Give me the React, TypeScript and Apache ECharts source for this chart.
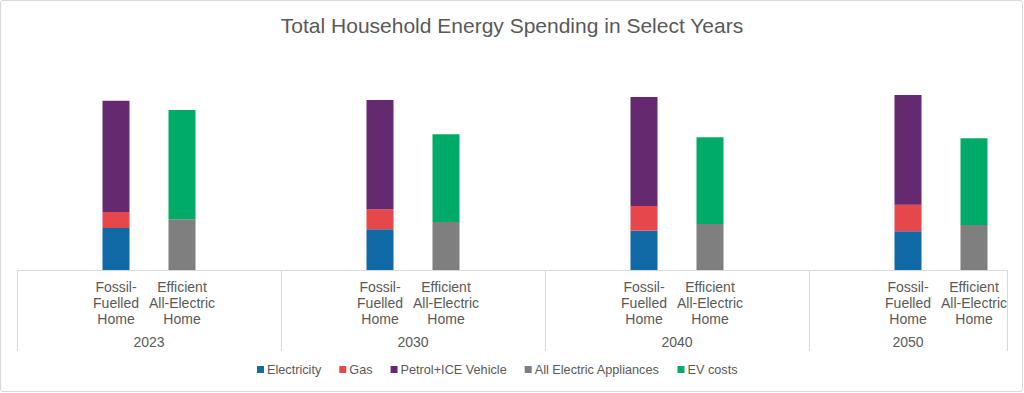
import React, { useEffect, useRef } from "react";
import * as echarts from "echarts";

// ---- data ----
const years = ["2023", "2030", "2040", "2050"];
const homeTypes = ["Fossil-\nFuelled\nHome", "Efficient\nAll-Electric\nHome"];
// Fossil-fuelled home components (per year)
const electricity = [1680, 1630, 1570, 1550];
const gas = [640, 800, 990, 1065];
const petrolIce = [4450, 4370, 4360, 4390];
// Efficient all-electric home components (per year)
const allElectricAppliances = [2030, 1920, 1840, 1800];
const evCosts = [4370, 3510, 3470, 3470];

const seriesNames = ["Electricity", "Gas", "Petrol+ICE Vehicle", "All Electric Appliances", "EV costs"];
const colors = ["#0F6AA6", "#E6474A", "#65296F", "#7F7F7F", "#00AB68"];

// category layout: each year group = blank, fossil, efficient, blank (last group has no trailing blank)
const trailingBlank = [true, true, true, false];

const categories: string[] = [];
const fossilIdx: number[] = [];
const effIdx: number[] = [];
const groupBounds: number[] = [0];
years.forEach((_, g) => {
  categories.push("");
  fossilIdx.push(categories.length);
  categories.push(homeTypes[0]);
  effIdx.push(categories.length);
  categories.push(homeTypes[1]);
  if (trailingBlank[g]) categories.push("");
  groupBounds.push(categories.length);
});
const groupCenters = years.map((_, g) => (groupBounds[g] + groupBounds[g + 1]) / 2);

function place(values: number[], idx: number[]): (number | null)[] {
  const arr: (number | null)[] = categories.map(() => null);
  values.forEach((v, i) => (arr[idx[i]] = v));
  return arr;
}

const seriesData = [
  place(electricity, fossilIdx),
  place(gas, fossilIdx),
  place(petrolIce, fossilIdx),
  place(allElectricAppliances, effIdx),
  place(evCosts, effIdx),
];

export default function App() {
  const ref = useRef<HTMLDivElement>(null);
  useEffect(() => {
    if (!ref.current) return;
    const chart = echarts.init(ref.current, null, { renderer: "svg" });
    const txt = "#595959";
    const font = "'Liberation Sans', Arial, sans-serif";
    chart.setOption({
      animation: false,
      backgroundColor: "#ffffff",
      textStyle: { fontFamily: font },
      title: {
        text: "Total Household Energy Spending in Select Years",
        left: "center",
        top: 10,
        textStyle: { color: txt, fontSize: 21, fontWeight: "normal", fontFamily: font },
      },
      graphic: [
        {
          type: "rect",
          shape: { x: 0.5, y: 0.5, width: 1022, height: 391, r: 2 },
          style: { fill: "none", stroke: "#D9D9D9", lineWidth: 1 },
          silent: true,
        },
      ],
      legend: {
        bottom: 12,
        left: 252,
        itemWidth: 7,
        itemHeight: 7,
        itemGap: 18,
        icon: "rect",
        textStyle: { color: txt, fontSize: 12.7, fontFamily: font, padding: [0, 0, 0, -2] },
        data: seriesNames,
      },
      grid: { left: 17, right: 17, top: 70, bottom: 123, containLabel: false },
      xAxis: [
        {
          type: "category",
          data: categories,
          position: "bottom",
          axisLine: { show: true, lineStyle: { color: "#D9D9D9", width: 1 } },
          axisTick: { show: false },
          axisLabel: {
            interval: 0,
            color: txt,
            fontSize: 14,
            lineHeight: 16,
            margin: 9,
            fontFamily: font,
          },
        },
        {
          type: "value",
          min: 0,
          max: categories.length,
          position: "bottom",
          axisLine: { show: false },
          splitLine: { show: false },
          axisTick: {
            show: true,
            length: 81,
            customValues: groupBounds,
            lineStyle: { color: "#D9D9D9", width: 1 },
          },
          axisLabel: {
            show: true,
            customValues: groupCenters,
            color: txt,
            fontSize: 14,
            margin: 65,
            fontFamily: font,
            formatter: (v: number) => {
              const g = groupCenters.findIndex((c) => Math.abs(c - v) < 1e-6);
              return g >= 0 ? years[g] : "";
            },
          },
        },
      ],
      yAxis: {
        type: "value",
        min: 0,
        max: 8000,
        show: false,
        splitLine: { show: false },
      },
      series: seriesNames.map((name, i) => ({
        name,
        type: "bar",
        stack: "total",
        xAxisIndex: 0,
        barWidth: 27,
        data: seriesData[i],
        itemStyle: { color: colors[i] },
      })),
    });
    return () => chart.dispose();
  }, []);
  return (
    <div
      ref={ref}
      style={{ position: "absolute", left: 0, top: 0, width: 1024, height: 393 }}
    />
  );
}
